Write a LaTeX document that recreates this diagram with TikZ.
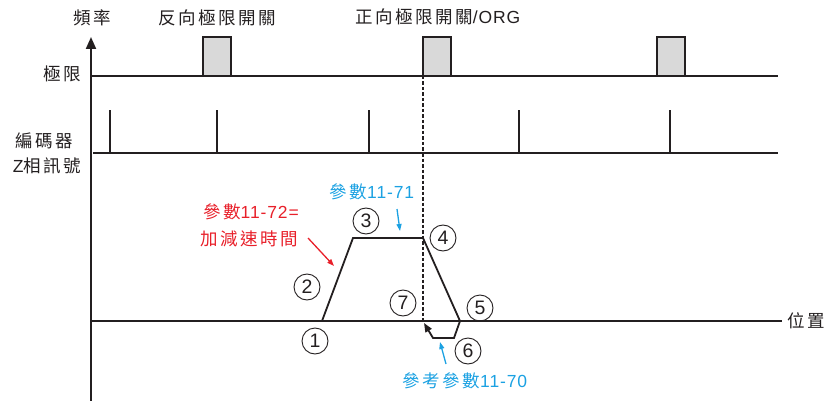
\documentclass[tikz,border=0pt]{standalone}
\usepackage{fontspec}
\setmainfont{Liberation Sans}[LetterSpace=5]
\newfontfamily\cjk{Noto Sans CJK TC}[LetterSpace=14]
\usetikzlibrary{arrows.meta}
\definecolor{lk}{HTML}{231F20}
\definecolor{bl}{HTML}{1BA1E2}
\definecolor{rd}{HTML}{E8202A}
\definecolor{bx}{HTML}{D9D9D9}
\begin{document}
\begin{tikzpicture}[x=1pt,y=-1pt,
  ln/.style={draw=lk, line width=1.6pt},
  pulse/.style={draw=lk, line width=1.6pt},
  limbox/.style={draw=lk, line width=1.5pt, fill=bx},
  lbl/.style={inner sep=0pt, text=lk, font=\fontsize{17.5}{17.5}\selectfont},
  num/.style={circle, draw=lk, line width=0.9pt, minimum size=26pt, inner sep=0pt, text=lk, font=\fontsize{19.5}{19.5}\selectfont},
  bluearr/.style={draw=bl, line width=1.3pt, -{Triangle[length=7pt,width=5pt]}},
  redarr/.style={draw=rd, line width=1.3pt, -{Triangle[length=7pt,width=5pt]}}]
\useasboundingbox (0,0) rectangle (827,401);
% axes
\coordinate (ybot) at (91,401);
\coordinate (ytop) at (91,37);
\draw[draw=lk, line width=2pt, -{Triangle[length=12pt,width=10pt]}] (ybot) -- (ytop);
\coordinate (px0) at (91,321);
\coordinate (px1) at (782,321);
\draw[draw=lk, line width=2pt] (px0) -- (px1);
% limit line and boxes
\coordinate (l0) at (91,76);
\coordinate (l1) at (778,76);
\draw[ln] (l0) -- (l1);
\draw[limbox] (203,76) rectangle (231,37);
\draw[limbox] (423,76) rectangle (451,37);
\draw[limbox] (657,76) rectangle (685,37);
% encoder line
\coordinate (e0) at (93,153);
\coordinate (e1) at (778,153);
\draw[ln] (e0) -- (e1);
\foreach \x in {110,217,369,519,670}
  \draw[pulse] (\x,153) -- (\x,110);
% dashed ORG line
\coordinate (d0) at (423,76);
\coordinate (d1) at (423,321);
\draw[draw=lk, line width=1.7pt, dash pattern=on 3.5pt off 2pt] (d0) -- (d1);
% speed profile
\coordinate (p1) at (322,321);
\coordinate (p2) at (353,238);
\coordinate (p3) at (423,238);
\coordinate (p4) at (460,321);
\coordinate (p5) at (454,338);
\coordinate (p6) at (433,338);
\coordinate (p7) at (424,323);
\draw[draw=lk, line width=1.8pt, line join=miter, -{Triangle[length=9pt,width=7pt]}]
  (p1) -- (p2) -- (p3) -- (p4) -- (p5) -- (p6) -- (p7);
% circled numbers
\node[num] (c1) at (315,341) {1};
\node[num] (c2) at (307,287) {2};
\node[num] (c3) at (366,221) {3};
\node[num] (c4) at (443,238) {4};
\node[num] (c5) at (480,308) {5};
\node[num] (c6) at (468,351) {6};
\node[num] (c7) at (403,303) {7};
% labels
\node[lbl] (tfreq) at (92,18) {\cjk 頻率};
\node[lbl] (trev) at (217.5,18) {\cjk 反向極限開關};
\node[lbl] (tfwd) at (438,17) {{\cjk 正向極限開關}/ORG};
\node[lbl, anchor=east] (tlim) at (81,74) {\cjk 極限};
\node[lbl] (tenc) at (44,141) {\cjk 編碼器};
\node[lbl] (tz) at (47,166) {Z{\cjk 相訊號}};
\node[lbl, anchor=west] (tpos) at (787,321) {\cjk 位置};
\node[lbl, text=bl] (t71) at (372,192) {{\cjk 參數}11-71};
\node[lbl, text=rd] (t72a) at (251,212) {{\cjk 參數}11-72=};
\node[lbl, text=rd] (t72b) at (249,239) {\cjk 加減速時間};
\node[lbl, text=bl] (t70) at (465,381) {{\cjk 參考參數}11-70};
% pointer arrows
\coordinate (a71s) at (397,209);
\coordinate (a71e) at (400,231);
\draw[bluearr] (a71s) -- (a71e);
\coordinate (a72s) at (308,238);
\coordinate (a72e) at (334,266);
\draw[redarr] (a72s) -- (a72e);
\coordinate (a70s) at (446,364);
\coordinate (a70e) at (440,342);
\draw[bluearr] (a70s) -- (a70e);
\end{tikzpicture}
\end{document}
